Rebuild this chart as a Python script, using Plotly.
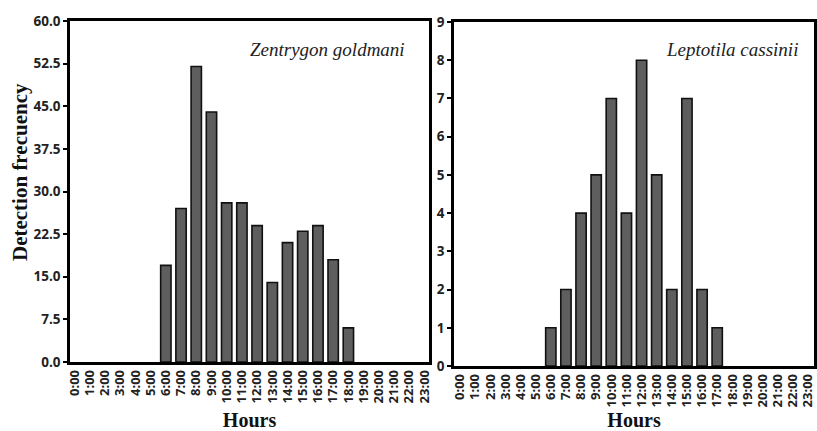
import plotly.graph_objects as go

hours = [f"{h}:00" for h in range(24)]
zentrygon = [0, 0, 0, 0, 0, 0, 17, 27, 52, 44, 28, 28, 24, 14, 21, 23, 24, 18, 6, 0, 0, 0, 0, 0]
leptotila = [0, 0, 0, 0, 0, 0, 1, 2, 4, 5, 7, 4, 8, 5, 2, 7, 2, 1, 0, 0, 0, 0, 0, 0]
left_ticks = [0, 7.5, 15, 22.5, 30, 37.5, 45, 52.5, 60]
left_ticktext = [f"{v:.1f}" for v in left_ticks]
right_ticks = list(range(10))
species = ["Zentrygon goldmani", "Leptotila cassinii"]

W, H = 817, 431
fig = go.Figure()


def bar(values, xa, ya):
    return go.Bar(x=hours, y=values, xaxis=xa, yaxis=ya, showlegend=False,
                  marker=dict(color="#5e5e5e",
                              line=dict(color="#111111", width=[1.6 if v > 0 else 0 for v in values])))


fig.add_trace(bar(zentrygon, "x", "y"))
fig.add_trace(bar(leptotila, "x2", "y2"))

xtickfont = dict(family="Open Sans", size=13, color="#222222", weight=700)
ytickfont = dict(family="Open Sans", size=13.5, color="#222222", weight=700)
common_x = dict(type="category", categoryorder="array", categoryarray=hours,
                tickmode="array", tickvals=hours, ticktext=hours, tickangle=-90,
                showline=True, mirror=True, linecolor="black", linewidth=2.5, ticks="",
                tickfont=xtickfont, showgrid=False, zeroline=False,
                automargin=False,
                title=dict(text="<b>Hours</b>", font=dict(family="Liberation Serif", size=20, color="#111"), standoff=16))
common_y = dict(showline=True, mirror=True, linecolor="black", linewidth=2.5, ticks="outside",
                ticklen=4, tickwidth=1.5, tickcolor="black", tickfont=ytickfont, showgrid=False, zeroline=False,
                automargin=False)

fig.update_layout(
    width=W, height=H, margin=dict(l=0, r=0, t=0, b=0),
    plot_bgcolor="white", paper_bgcolor="white", bargap=0.32,
    xaxis=dict(domain=[70 / W, 429 / W], anchor="y", range=[-0.3, 23.3], **common_x),
    xaxis2=dict(domain=[454 / W, 814 / W], anchor="y2", range=[-0.4, 23.4], **common_x),
    yaxis=dict(domain=[1 - 362 / H, 1 - 21 / H], anchor="x", range=[0, 60],
               tickvals=left_ticks, ticktext=left_ticktext, **common_y),
    yaxis2=dict(domain=[1 - 366 / H, 1 - 22 / H], anchor="x2", range=[0, 9],
                tickvals=right_ticks, **common_y),
)
fig.add_annotation(text="<b>Detection frecuency</b>", xref="paper", yref="paper", x=20 / W, y=1 - 172 / H,
                   xanchor="center", yanchor="middle",
                   textangle=-90, showarrow=False, font=dict(family="Liberation Serif", size=21, color="#111"))
fig.add_annotation(text=f"<i>{species[0]}</i>", xref="x domain", yref="y domain", x=0.94, y=0.915,
                   xanchor="right", yanchor="middle", showarrow=False,
                   font=dict(family="Liberation Serif", size=19, color="#222"))
fig.add_annotation(text=f"<i>{species[1]}</i>", xref="x2 domain", yref="y2 domain", x=0.961, y=0.92,
                   xanchor="right", yanchor="middle", showarrow=False,
                   font=dict(family="Liberation Serif", size=19, color="#222"))

fig.write_html("out.html")
